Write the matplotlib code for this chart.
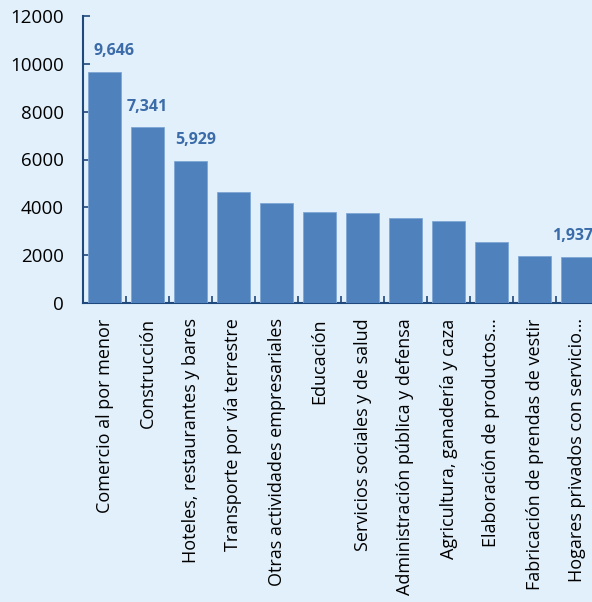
import matplotlib
matplotlib.use("Agg")
import matplotlib.pyplot as plt
import numpy as np

categories = [
    "Comercio al por menor",
    "Construcción",
    "Hoteles, restaurantes y bares",
    "Transporte por vía terrestre",
    "Otras actividades empresariales",
    "Educación",
    "Servicios sociales y de salud",
    "Administración pública y defensa",
    "Agricultura, ganadería y caza",
    "Elaboración de productos…",
    "Fabricación de prendas de vestir",
    "Hogares privados con servicio…",
]
values = [9646, 7341, 5929, 4660, 4180, 3820, 3755, 3545, 3420, 2545, 1965, 1937]
labelled = {0: "9,646", 1: "7,341", 2: "5,929", 11: "1,937"}
# horizontal nudge of the value labels (pixels), as placed in the original
label_dx = {0: 9, 1: 0, 2: 5, 11: -5}
yticks = [0, 2000, 4000, 6000, 8000, 10000, 12000]

BG = "#E1F0FA"
BAR = "#4F81BD"
AXIS = "#1F497D"
LABEL = "#3B6BA8"

plt.rcParams["font.family"] = ["Open Sans", "DejaVu Sans"]

fig = plt.figure(figsize=(5.92, 6.02), dpi=100, facecolor=BG)
ax = fig.add_axes([83 / 592, 1 - 303 / 602, 516 / 592, 287 / 602])
ax.set_facecolor(BG)

x = np.arange(len(categories))
ax.bar(x, values, width=0.77, color=BAR, edgecolor="#7FA6D6", linewidth=0.6, zorder=3)

for i, txt in labelled.items():
    ax.annotate(txt, (x[i], values[i]), xytext=(label_dx[i] * 0.72, 15),
                textcoords="offset points", ha="center", va="center",
                fontsize=11.5, fontweight="bold", color=LABEL)

ax.set_xlim(-0.5, len(categories) - 0.5)
ax.set_ylim(0, 12000)
ax.set_yticks(yticks)
ax.set_yticklabels([str(v) for v in yticks], fontsize=13.5)

ax.set_xticks(np.arange(len(categories) + 1) - 0.5)
ax.set_xticklabels([])
ax.set_xticks(x, minor=True)
ax.set_xticklabels(categories, minor=True, rotation=90, fontsize=13, va="top", ha="center")
ax.tick_params(axis="x", which="minor", length=0, pad=11)
ax.tick_params(axis="x", which="major", direction="in", length=5, width=1.2, color=AXIS)
ax.tick_params(axis="y", direction="in", length=5, width=1.2, color=AXIS, pad=14)

for side in ["top", "right"]:
    ax.spines[side].set_visible(False)
for side in ["left", "bottom"]:
    ax.spines[side].set_color(AXIS)
    ax.spines[side].set_linewidth(1.5)

fig.savefig("out.png", dpi=100, facecolor=BG)
